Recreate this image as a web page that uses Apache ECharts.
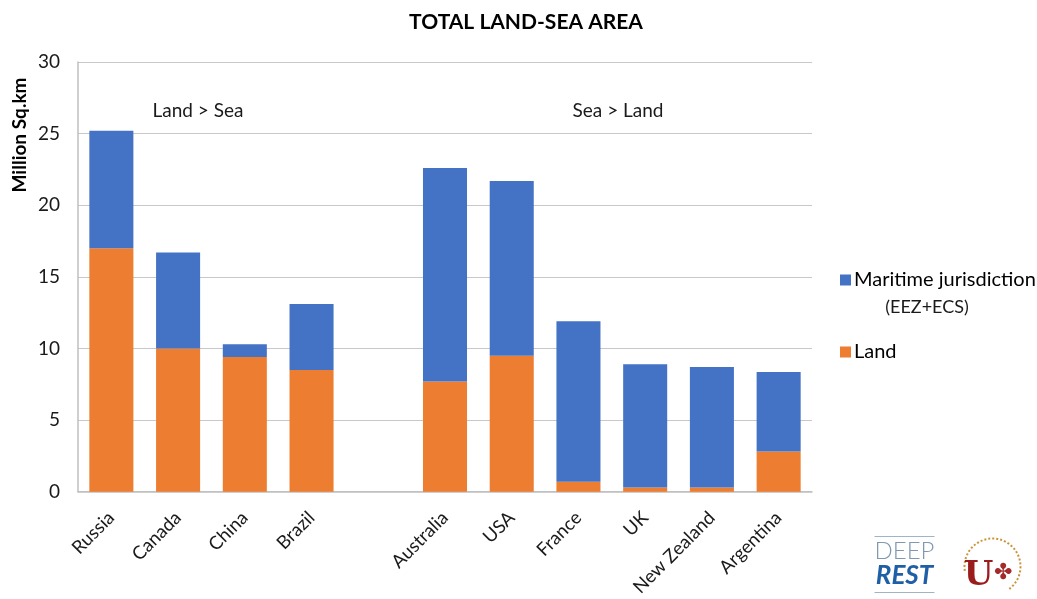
<!DOCTYPE html>
<html>
<head>
<meta charset="utf-8">
<script src="https://cdn.jsdelivr.net/npm/echarts@6/dist/echarts.min.js"></script>
<style>
  html, body { margin: 0; padding: 0; background: #fff; }
  #chart { width: 1037px; height: 599px; }
</style>
</head>
<body>
<div id="chart"></div>
<script>
// Countries (an empty slot separates the two groups)
const countries = ['Russia', 'Canada', 'China', 'Brazil', '', 'Australia', 'USA', 'France', 'UK', 'New Zealand', 'Argentina'];
// Land area, million sq. km
const land = [17.0, 10.0, 9.4, 8.5, null, 7.7, 9.5, 0.7, 0.3, 0.3, 2.8];
// Maritime jurisdiction (EEZ + ECS), million sq. km
const maritime = [8.2, 6.7, 0.9, 4.6, null, 14.9, 12.2, 11.2, 8.6, 8.4, 5.55];
const yTicks = [0, 5, 10, 15, 20, 25, 30];

const FONT = 'Lato, "Open Sans", sans-serif';
const chart = echarts.init(document.getElementById('chart'));

chart.setOption({
  animation: false,
  textStyle: { fontFamily: FONT },
  title: {
    text: 'TOTAL LAND-SEA AREA',
    left: 521, top: 7, textAlign: 'center',
    textStyle: { fontFamily: FONT, fontSize: 21, fontWeight: 'bold', color: '#000' }
  },
  grid: { left: 78, right: 225, top: 62, bottom: 106 },
  legend: {
    orient: 'vertical',
    left: 835, top: 265,
    itemWidth: 11, itemHeight: 11, itemGap: 52,
    icon: 'rect',
    data: ['Maritime jurisdiction', 'Land'],
    textStyle: { fontFamily: FONT, fontSize: 20, color: '#000', padding: [0, 0, 0, -2] }
  },
  xAxis: {
    type: 'category',
    data: countries,
    axisTick: { show: false },
    axisLine: { lineStyle: { color: '#bfbfbf', width: 1.5 } },
    axisLabel: {
      interval: 0, rotate: 45, fontSize: 18.5, color: '#1a1a1a',
      fontFamily: FONT, margin: 23
    }
  },
  yAxis: {
    type: 'value',
    min: yTicks[0], max: yTicks[yTicks.length - 1], interval: 5,
    axisLine: { show: true, lineStyle: { color: '#bfbfbf', width: 1.5 } },
    axisTick: { show: false },
    splitLine: { lineStyle: { color: '#c8c8c8', width: 1 } },
    axisLabel: { fontSize: 19, color: '#1a1a1a', fontFamily: FONT, margin: 18 }
  },
  series: [
    {
      name: 'Land', type: 'bar', stack: 'area',
      data: land, barCategoryGap: '34%',
      itemStyle: { color: '#ED7D31' }
    },
    {
      name: 'Maritime jurisdiction', type: 'bar', stack: 'area',
      data: maritime, barCategoryGap: '34%',
      itemStyle: { color: '#4472C4' }
    }
  ],
  graphic: [
    {
      type: 'text', x: 20, y: 135, rotation: Math.PI / 2,
      style: {
        text: 'Million Sq.km', fontFamily: FONT, fontSize: 19, fontWeight: 'bold',
        fill: '#000', align: 'center', verticalAlign: 'middle'
      }
    },
    {
      type: 'text', x: 927, y: 307,
      style: { text: '(EEZ+ECS)', fontFamily: FONT, fontSize: 18, fill: '#1a1a1a', align: 'center', verticalAlign: 'middle' }
    },
    {
      type: 'text', x: 198, y: 111,
      style: { text: 'Land > Sea', fontFamily: FONT, fontSize: 19, fill: '#1a1a1a', align: 'center', verticalAlign: 'middle' }
    },
    {
      type: 'text', x: 618, y: 111,
      style: { text: 'Sea > Land', fontFamily: FONT, fontSize: 19, fill: '#1a1a1a', align: 'center', verticalAlign: 'middle' }
    },
    // DEEP REST mark
    {
      type: 'group', left: 872, top: 534,
      children: [
        { type: 'line', shape: { x1: 2, y1: 0, x2: 62, y2: 0 }, style: { stroke: '#9fb4c8', lineWidth: 1 } },
        { type: 'text', x: 32, y: 15, style: { text: 'DEEP', fontFamily: FONT, fontSize: 24, fontWeight: 300, fill: '#7f97b0', align: 'center', verticalAlign: 'middle' } },
        { type: 'text', x: 32, y: 39, style: { text: 'REST', fontFamily: FONT, fontSize: 26, fontWeight: 'bold', fontStyle: 'italic', fill: '#1f5fa6', align: 'center', verticalAlign: 'middle' } },
        { type: 'line', shape: { x1: 2, y1: 56, x2: 62, y2: 56 }, style: { stroke: '#9fb4c8', lineWidth: 1 } }
      ]
    },
    // Universidad de Sevilla mark
    {
      type: 'group', left: 962, top: 536,
      children: [
        { type: 'arc', shape: { cx: 34, cy: 28, r: 28, startAngle: Math.PI * 0.95, endAngle: Math.PI * 2.3 }, style: { stroke: '#c9943a', lineWidth: 2, lineDash: [2, 2], fill: null } },
        { type: 'text', x: 20, y: 38, style: { text: 'U', fontFamily: '"DejaVu Serif", serif', fontSize: 34, fontWeight: 'bold', fill: '#9b1c1c', align: 'center', verticalAlign: 'middle' } },
        { type: 'text', x: 44, y: 34, style: { text: '✤', fontSize: 22, fill: '#a52a2a', align: 'center', verticalAlign: 'middle' } }
      ]
    }
  ]
});
</script>
</body>
</html>
